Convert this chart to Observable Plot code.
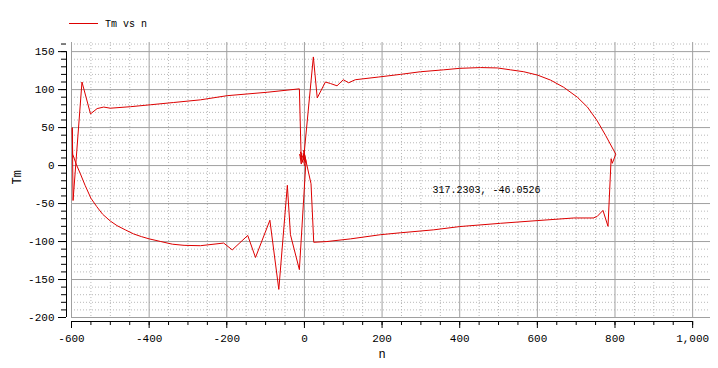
<!DOCTYPE html>
<html>
<head>
<meta charset="utf-8">
<script src="https://cdn.jsdelivr.net/npm/d3@7"></script>
<script src="https://cdn.jsdelivr.net/npm/@observablehq/plot@0.6"></script>
<style>
  html, body { margin: 0; padding: 0; background: #fff; }
  #legend { height: 36px; }
</style>
</head>
<body>
<div id="legend"></div>
<div id="chart"></div>
<script>
// Series: speed n and torque Tm, in trajectory order
const nValues = [
  0, -3, 3, -2, 23, 33, 54, 67, 84, 100, 114, 131, 190, 247, 299, 358, 400, 454, 497, 531,
  565, 601, 634, 668, 703, 729, 754, 776, 802, 793, 790, 782, 769, 754, 744, 694, 601, 505,
  400, 333, 247, 196, 119, 58, 24, 17, -2, 4, -13, -36, -44, -66, -89, -126, -146, -186,
  -208, -268, -310, -340, -370, -400, -420, -440, -460, -483, -500, -520, -535, -550, -565,
  -577, -588, -597, -598, -596, -573, -551, -534, -517, -500, -448, -397, -337, -268, -199,
  -96, -13, -8, -12, -4, -10, -2
];
const tmValues = [
  0, 16, 4, 9, 143, 89, 110, 108, 105, 113, 109, 113, 116.5, 120, 123.5, 126, 128, 129, 128.5, 126,
  123.5, 119, 112.5, 103, 90, 77, 59, 39.5, 15, 3, 9, -80, -59, -67, -69, -69, -72.4, -76,
  -80.3, -84.6, -88.5, -91, -96.5, -100, -101, -24, 20, 6, -137, -91, -26, -163, -72, -121, -92, -111,
  -102, -105.5, -105, -103.5, -100, -96.5, -93.5, -90, -85, -79, -73, -64, -54, -43, -26,
  -11, 2, 15, 50, -46, 110, 68, 75, 77, 75.5, 77.5, 80, 83, 86.5, 92,
  96.5, 101, 2, 15, 4, 18, 8
];
const seriesName = "Tm vs n";
const xLabel = "n";
const yLabel = "Tm";
const xMajorTicks = [-600, -400, -200, 0, 200, 400, 600, 800, 1000];
const xMinorTicks = d3.range(-600, 1001, 50);
const yMajorTicks = [-200, -150, -100, -50, 0, 50, 100, 150];
const yMinorTicks = d3.range(-200, 161, 10);
const cursorPoint = [{n: 317.2303, tm: -46.0526}];

const rows = nValues.map((n, i) => ({n, tm: tmValues[i]}));
const fmt = d => (d < 0 ? "-" : "") + d3.format(",")(Math.abs(d));
const mono = "Liberation Mono, DejaVu Sans Mono, monospace";
const red = "#dd0000";

const xMin = d3.min(xMajorTicks), xMax = d3.max(xMajorTicks);
const yMin = d3.min(yMajorTicks), yMax = d3.max(yMajorTicks);

const chart = Plot.plot({
  width: 718,
  height: 332,
  marginLeft: 71,
  marginRight: 8,
  marginTop: 6,
  marginBottom: 51,
  style: {fontFamily: mono, fontSize: "11px", background: "#fff", color: "#000"},
  x: {domain: [-600, 1046], axis: null},
  y: {domain: [-200, 162], axis: null},
  marks: [
    // minor grid
    Plot.ruleX(xMinorTicks.filter(d => !xMajorTicks.includes(d)), {stroke: "#b8b8b8", strokeDasharray: "1,2"}),
    Plot.ruleY(yMinorTicks.filter(d => !yMajorTicks.includes(d)), {stroke: "#b8b8b8", strokeDasharray: "1,2"}),
    // major grid
    Plot.ruleX(xMajorTicks, {stroke: "#a0a0a0"}),
    Plot.ruleY(yMajorTicks, {stroke: "#a0a0a0"}),
    // axis lines (offset from the plot area)
    Plot.ruleX([xMin], {y1: yMin, y2: yMax, dx: -5, stroke: "#000"}),
    Plot.ruleY([yMin], {x1: xMin, x2: xMax, dy: 4, stroke: "#000"}),
    // y ticks
    Plot.axisY(yMinorTicks, {anchor: "left", tickSize: 5, dx: -5, tickFormat: () => "", label: null}),
    Plot.axisY(yMajorTicks, {anchor: "left", tickSize: 8, dx: -5, tickPadding: 4, tickFormat: fmt, label: null, fontSize: 11}),
    // x ticks
    Plot.axisX(xMinorTicks, {anchor: "bottom", tickSize: 4, dy: 4, tickFormat: () => "", label: null}),
    Plot.axisX(xMajorTicks, {anchor: "bottom", tickSize: 7, dy: 4, tickPadding: 6, tickFormat: fmt, label: null, fontSize: 11}),
    // axis labels
    Plot.text([xLabel], {x: (xMin + xMax) / 2, frameAnchor: "bottom", dy: 40, text: d => d, fontSize: 12}),
    Plot.text([yLabel], {y: (yMin + yMax) / 2, frameAnchor: "left", dx: -54, rotate: -90, text: d => d, fontSize: 12}),
    // data
    Plot.line(rows, {x: "n", y: "tm", stroke: red, strokeWidth: 1}),
    // cursor readout
    Plot.text(cursorPoint, {x: "n", y: "tm", text: d => `${d.n}, ${fmt(d.tm)}`, textAnchor: "start", dx: 5, dy: -11, fontSize: 10})
  ]
});
document.getElementById("chart").appendChild(chart);

// legend
const lg = d3.select("#legend").append("svg").attr("width", 718).attr("height", 36);
lg.append("line").attr("x1", 69).attr("x2", 98).attr("y1", 23.5).attr("y2", 23.5).attr("stroke", red).attr("stroke-width", 1);
lg.append("text").attr("x", 105).attr("y", 27).attr("font-family", mono).attr("font-size", 10).text(seriesName);
</script>
</body>
</html>
